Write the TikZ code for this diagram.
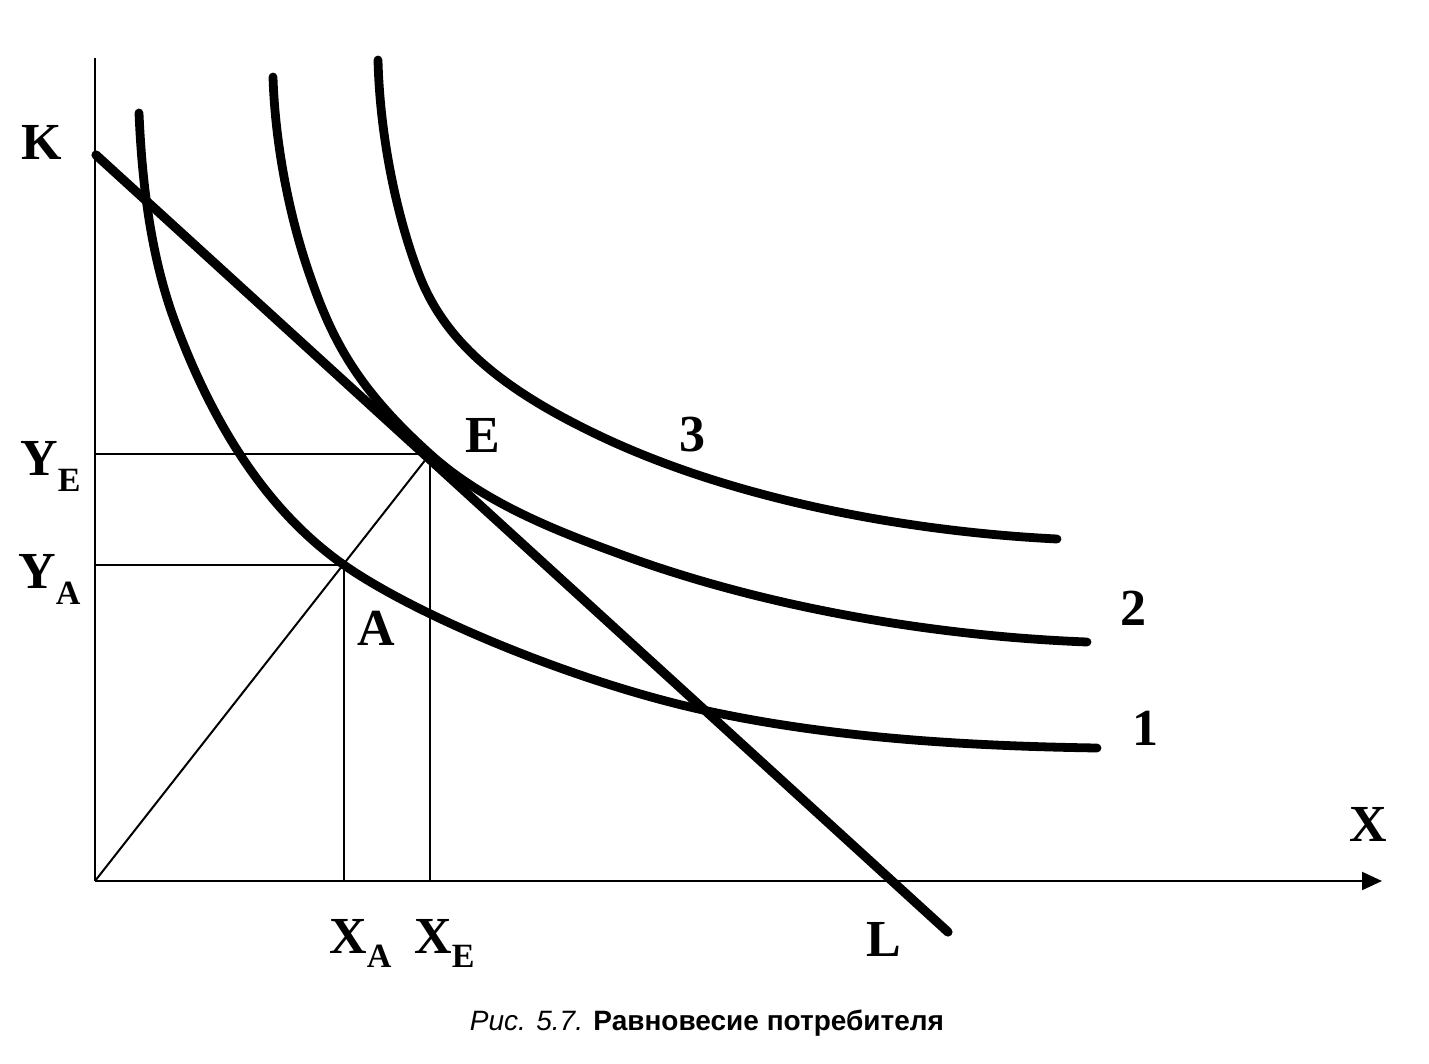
\documentclass[tikz,border=0pt]{standalone}
\usepackage{fontspec}
\setmainfont{Liberation Serif}
\newfontfamily\capfont{Liberation Sans}
\usetikzlibrary{arrows.meta}
\begin{document}
\begin{tikzpicture}[x=0.5pt,y=-0.5pt,
  curve/.style={line width=4.4pt,line cap=round,line join=round},
  budget/.style={line width=4.6pt,line cap=round},
  thinl/.style={line width=1pt},
  axis/.style={line width=1.1pt},
  lbl/.style={font=\fontsize{26}{26}\selectfont\bfseries,inner sep=0pt},
  sublbl/.style={font=\fontsize{26}{26}\selectfont\bfseries,inner sep=0pt,anchor=base west},
  ]
\useasboundingbox (0,0) rectangle (1429,1064);
\coordinate (O) at (95,881);
\coordinate (Ytop) at (95,58);
\coordinate (Xend) at (1382,881);
\coordinate (Kp) at (96,155);
\coordinate (Lp) at (948,932);
\coordinate (E) at (430,454);
\coordinate (A) at (344,565);
% axes
\draw[axis] (Ytop) -- (O);
\draw[axis,-{Triangle[length=10pt,width=9pt]}] (O) -- (Xend);
% reference lines
\draw[thinl] (O |- E) -- (E) -- (E |- O);
\draw[thinl] (O |- A) -- (A) -- (A |- O);
\draw[thinl] (O) -- (E);
% budget line
\draw[budget] (Kp) -- (Lp);
% indifference curves
\draw[curve] (139,113) .. controls (142,183) and (150.7,256.3) .. (175,322)
  .. controls (209.7,415.8) and (262.1,507.7) .. (344,565)
  .. controls (417.7,616.6) and (576,682) .. (703,710)
  .. controls (830,738) and (967,746) .. (1097,748);
\draw[curve] (273,77) .. controls (275,141) and (288,210) .. (307,267)
  .. controls (330.7,338.2) and (355.7,387.1) .. (430,454)
  .. controls (482,501) and (551,529) .. (617,553)
  .. controls (762,607) and (932,636) .. (1087,642);
\draw[curve] (378,60) .. controls (380,140) and (398,221) .. (420,277)
  .. controls (446,342) and (501,389) .. (600,436)
  .. controls (735,500) and (907,531.5) .. (1057,539);
% labels
\node[lbl] (lK) at (42,142) {K};
\node[lbl] (lX) at (1368,824) {X};
\node[lbl] (lL) at (884,939) {L};
\node[lbl] (lE) at (483,435) {E};
\node[lbl] (lA) at (376,628) {A};
\node[lbl] (l3) at (692,435) {3};
\node[lbl] (l2) at (1133,608) {2};
\node[lbl] (l1) at (1145,728) {1};
\node[sublbl] (lYE) at (20,475) {Y\raisebox{-8pt}{\fontsize{17}{17}\selectfont E}};
\node[sublbl] (lYA) at (18,588) {Y\raisebox{-8pt}{\fontsize{17}{17}\selectfont A}};
\node[sublbl] (lXA) at (329,953) {X\raisebox{-7pt}{\fontsize{17}{17}\selectfont A}};
\node[sublbl] (lXE) at (414,953) {X\raisebox{-7pt}{\fontsize{17}{17}\selectfont E}};
% caption
\node[font=\capfont\fontsize{14}{15}\selectfont,inner sep=0pt] (cap) at (707,1023) {\textit{Рис. 5.7.} \textbf{Равновесие потребителя}};
\end{tikzpicture}
\end{document}
